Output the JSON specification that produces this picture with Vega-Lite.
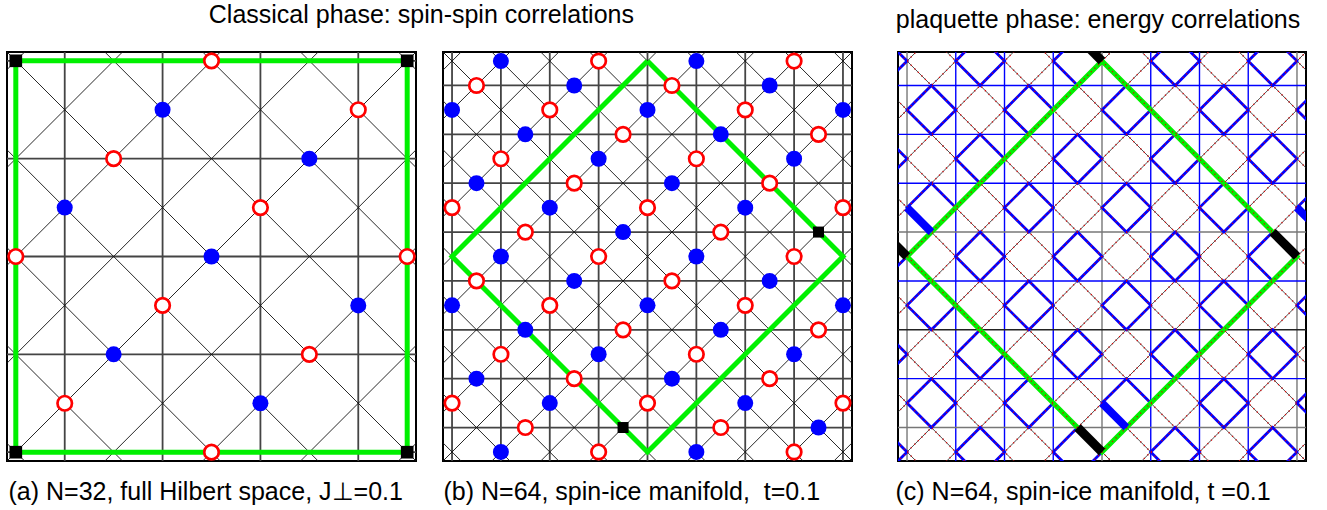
{
  "$schema": "https://vega.github.io/schema/vega-lite/v6.json",
  "background": "white",
  "padding": {"left": 2, "top": 3, "right": 0, "bottom": 0},
  "spacing": 37,
  "config": {
    "font": "Liberation Sans",
    "view": {"stroke": "#000", "strokeWidth": 2},
    "title": {"fontSize": 25, "fontWeight": "normal", "color": "#000", "font": "Liberation Sans", "offset": 19, "anchor": "middle"},
    "axis": {"titleFontSize": 25, "titleFontWeight": "normal", "titleColor": "#000", "titleFont": "Liberation Sans"}
  },
  "datasets": {
    "sitesA": [
      {"x": 0, "y": 0, "c": "k"}, {"x": 4, "y": 0, "c": "r"}, {"x": 8, "y": 0, "c": "k"},
      {"x": 3, "y": 1, "c": "b"}, {"x": 7, "y": 1, "c": "r"},
      {"x": 2, "y": 2, "c": "r"}, {"x": 6, "y": 2, "c": "b"},
      {"x": 1, "y": 3, "c": "b"}, {"x": 5, "y": 3, "c": "r"},
      {"x": 0, "y": 4, "c": "r"}, {"x": 4, "y": 4, "c": "b"}, {"x": 8, "y": 4, "c": "r"},
      {"x": 3, "y": 5, "c": "r"}, {"x": 7, "y": 5, "c": "b"},
      {"x": 2, "y": 6, "c": "b"}, {"x": 6, "y": 6, "c": "r"},
      {"x": 1, "y": 7, "c": "r"}, {"x": 5, "y": 7, "c": "b"},
      {"x": 0, "y": 8, "c": "k"}, {"x": 4, "y": 8, "c": "r"}, {"x": 8, "y": 8, "c": "k"}
    ],
    "gridA": [
      {"x": 1, "y": -1, "x2": 1, "y2": 9}, {"x": 3, "y": -1, "x2": 3, "y2": 9},
      {"x": 5, "y": -1, "x2": 5, "y2": 9}, {"x": 7, "y": -1, "x2": 7, "y2": 9},
      {"x": -1, "y": 0, "x2": 9, "y2": 0}, {"x": -1, "y": 2, "x2": 9, "y2": 2},
      {"x": -1, "y": 4, "x2": 9, "y2": 4}, {"x": -1, "y": 6, "x2": 9, "y2": 6},
      {"x": -1, "y": 8, "x2": 9, "y2": 8}
    ],
    "diagA": [
      {"x": -1, "y": 7, "x2": 9, "y2": 17}, {"x": -1, "y": 5, "x2": 9, "y2": 15},
      {"x": -1, "y": 3, "x2": 9, "y2": 13}, {"x": -1, "y": 1, "x2": 9, "y2": 11},
      {"x": -1, "y": -1, "x2": 9, "y2": 9}, {"x": -1, "y": -3, "x2": 9, "y2": 7},
      {"x": -1, "y": -5, "x2": 9, "y2": 5}, {"x": -1, "y": -7, "x2": 9, "y2": 3},
      {"x": -1, "y": -9, "x2": 9, "y2": 1},
      {"x": -1, "y": 1, "x2": 9, "y2": -9}, {"x": -1, "y": 3, "x2": 9, "y2": -7},
      {"x": -1, "y": 5, "x2": 9, "y2": -5}, {"x": -1, "y": 7, "x2": 9, "y2": -3},
      {"x": -1, "y": 9, "x2": 9, "y2": -1}, {"x": -1, "y": 11, "x2": 9, "y2": 1},
      {"x": -1, "y": 13, "x2": 9, "y2": 3}, {"x": -1, "y": 15, "x2": 9, "y2": 5},
      {"x": -1, "y": 17, "x2": 9, "y2": 7}
    ],
    "greenA": [
      {"x": 0, "y": 0, "k": 0}, {"x": 8, "y": 0, "k": 1}, {"x": 8, "y": 8, "k": 2},
      {"x": 0, "y": 8, "k": 3}, {"x": 0, "y": 0, "k": 4}
    ],
    "sitesB": [
      {"x": 2, "y": 0, "c": "b"}, {"x": 6, "y": 0, "c": "r"}, {"x": 10, "y": 0, "c": "b"}, {"x": 14, "y": 0, "c": "r"},
      {"x": 1, "y": 1, "c": "r"}, {"x": 5, "y": 1, "c": "b"}, {"x": 9, "y": 1, "c": "r"}, {"x": 13, "y": 1, "c": "b"},
      {"x": 0, "y": 2, "c": "b"}, {"x": 4, "y": 2, "c": "r"}, {"x": 8, "y": 2, "c": "b"}, {"x": 12, "y": 2, "c": "r"}, {"x": 16, "y": 2, "c": "b"},
      {"x": 3, "y": 3, "c": "b"}, {"x": 7, "y": 3, "c": "r"}, {"x": 11, "y": 3, "c": "b"}, {"x": 15, "y": 3, "c": "r"},
      {"x": 2, "y": 4, "c": "r"}, {"x": 6, "y": 4, "c": "b"}, {"x": 10, "y": 4, "c": "r"}, {"x": 14, "y": 4, "c": "b"},
      {"x": 1, "y": 5, "c": "b"}, {"x": 5, "y": 5, "c": "r"}, {"x": 9, "y": 5, "c": "b"}, {"x": 13, "y": 5, "c": "r"},
      {"x": 0, "y": 6, "c": "r"}, {"x": 4, "y": 6, "c": "b"}, {"x": 8, "y": 6, "c": "r"}, {"x": 12, "y": 6, "c": "b"}, {"x": 16, "y": 6, "c": "r"},
      {"x": 3, "y": 7, "c": "r"}, {"x": 7, "y": 7, "c": "b"}, {"x": 11, "y": 7, "c": "r"}, {"x": 15, "y": 7, "c": "k"},
      {"x": 2, "y": 8, "c": "b"}, {"x": 6, "y": 8, "c": "r"}, {"x": 10, "y": 8, "c": "b"}, {"x": 14, "y": 8, "c": "r"},
      {"x": 1, "y": 9, "c": "r"}, {"x": 5, "y": 9, "c": "b"}, {"x": 9, "y": 9, "c": "r"}, {"x": 13, "y": 9, "c": "b"},
      {"x": 0, "y": 10, "c": "b"}, {"x": 4, "y": 10, "c": "r"}, {"x": 8, "y": 10, "c": "b"}, {"x": 12, "y": 10, "c": "r"}, {"x": 16, "y": 10, "c": "b"},
      {"x": 3, "y": 11, "c": "b"}, {"x": 7, "y": 11, "c": "r"}, {"x": 11, "y": 11, "c": "b"}, {"x": 15, "y": 11, "c": "r"},
      {"x": 2, "y": 12, "c": "r"}, {"x": 6, "y": 12, "c": "b"}, {"x": 10, "y": 12, "c": "r"}, {"x": 14, "y": 12, "c": "b"},
      {"x": 1, "y": 13, "c": "b"}, {"x": 5, "y": 13, "c": "r"}, {"x": 9, "y": 13, "c": "b"}, {"x": 13, "y": 13, "c": "r"},
      {"x": 0, "y": 14, "c": "r"}, {"x": 4, "y": 14, "c": "b"}, {"x": 8, "y": 14, "c": "r"}, {"x": 12, "y": 14, "c": "b"}, {"x": 16, "y": 14, "c": "r"},
      {"x": 3, "y": 15, "c": "r"}, {"x": 7, "y": 15, "c": "k"}, {"x": 11, "y": 15, "c": "r"}, {"x": 15, "y": 15, "c": "b"},
      {"x": 2, "y": 16, "c": "b"}, {"x": 6, "y": 16, "c": "r"}, {"x": 10, "y": 16, "c": "b"}, {"x": 14, "y": 16, "c": "r"}
    ],
    "grid16": [
      {"x": 0, "y": -1, "x2": 0, "y2": 17}, {"x": 2, "y": -1, "x2": 2, "y2": 17},
      {"x": 4, "y": -1, "x2": 4, "y2": 17}, {"x": 6, "y": -1, "x2": 6, "y2": 17},
      {"x": 8, "y": -1, "x2": 8, "y2": 17}, {"x": 10, "y": -1, "x2": 10, "y2": 17},
      {"x": 12, "y": -1, "x2": 12, "y2": 17}, {"x": 14, "y": -1, "x2": 14, "y2": 17},
      {"x": 16, "y": -1, "x2": 16, "y2": 17},
      {"x": -1, "y": 1, "x2": 17, "y2": 1}, {"x": -1, "y": 3, "x2": 17, "y2": 3},
      {"x": -1, "y": 5, "x2": 17, "y2": 5}, {"x": -1, "y": 7, "x2": 17, "y2": 7},
      {"x": -1, "y": 9, "x2": 17, "y2": 9}, {"x": -1, "y": 11, "x2": 17, "y2": 11},
      {"x": -1, "y": 13, "x2": 17, "y2": 13}, {"x": -1, "y": 15, "x2": 17, "y2": 15}
    ],
    "gridC": [
      {"x": 0, "y": -1, "x2": 0, "y2": 17, "w": "weak"}, {"x": 2, "y": -1, "x2": 2, "y2": 17, "w": "pos"},
      {"x": 4, "y": -1, "x2": 4, "y2": 17, "w": "pos"}, {"x": 6, "y": -1, "x2": 6, "y2": 17, "w": "pos"},
      {"x": 8, "y": -1, "x2": 8, "y2": 17, "w": "weak"}, {"x": 10, "y": -1, "x2": 10, "y2": 17, "w": "pos"},
      {"x": 12, "y": -1, "x2": 12, "y2": 17, "w": "pos"}, {"x": 14, "y": -1, "x2": 14, "y2": 17, "w": "pos"},
      {"x": 16, "y": -1, "x2": 16, "y2": 17, "w": "weak"},
      {"x": -1, "y": 1, "x2": 17, "y2": 1, "w": "pos"}, {"x": -1, "y": 3, "x2": 17, "y2": 3, "w": "pos"},
      {"x": -1, "y": 5, "x2": 17, "y2": 5, "w": "pos"}, {"x": -1, "y": 7, "x2": 17, "y2": 7, "w": "weak"},
      {"x": -1, "y": 9, "x2": 17, "y2": 9, "w": "pos"}, {"x": -1, "y": 11, "x2": 17, "y2": 11, "w": "zero"},
      {"x": -1, "y": 13, "x2": 17, "y2": 13, "w": "pos"}, {"x": -1, "y": 15, "x2": 17, "y2": 15, "w": "weak"}
    ],
    "diag16": [
      {"x": -1, "y": 15, "x2": 17, "y2": 33}, {"x": -1, "y": 13, "x2": 17, "y2": 31},
      {"x": -1, "y": 11, "x2": 17, "y2": 29}, {"x": -1, "y": 9, "x2": 17, "y2": 27},
      {"x": -1, "y": 7, "x2": 17, "y2": 25}, {"x": -1, "y": 5, "x2": 17, "y2": 23},
      {"x": -1, "y": 3, "x2": 17, "y2": 21}, {"x": -1, "y": 1, "x2": 17, "y2": 19},
      {"x": -1, "y": -1, "x2": 17, "y2": 17}, {"x": -1, "y": -3, "x2": 17, "y2": 15},
      {"x": -1, "y": -5, "x2": 17, "y2": 13}, {"x": -1, "y": -7, "x2": 17, "y2": 11},
      {"x": -1, "y": -9, "x2": 17, "y2": 9}, {"x": -1, "y": -11, "x2": 17, "y2": 7},
      {"x": -1, "y": -13, "x2": 17, "y2": 5}, {"x": -1, "y": -15, "x2": 17, "y2": 3},
      {"x": -1, "y": -17, "x2": 17, "y2": 1},
      {"x": -1, "y": 1, "x2": 17, "y2": -17}, {"x": -1, "y": 3, "x2": 17, "y2": -15},
      {"x": -1, "y": 5, "x2": 17, "y2": -13}, {"x": -1, "y": 7, "x2": 17, "y2": -11},
      {"x": -1, "y": 9, "x2": 17, "y2": -9}, {"x": -1, "y": 11, "x2": 17, "y2": -7},
      {"x": -1, "y": 13, "x2": 17, "y2": -5}, {"x": -1, "y": 15, "x2": 17, "y2": -3},
      {"x": -1, "y": 17, "x2": 17, "y2": -1}, {"x": -1, "y": 19, "x2": 17, "y2": 1},
      {"x": -1, "y": 21, "x2": 17, "y2": 3}, {"x": -1, "y": 23, "x2": 17, "y2": 5},
      {"x": -1, "y": 25, "x2": 17, "y2": 7}, {"x": -1, "y": 27, "x2": 17, "y2": 9},
      {"x": -1, "y": 29, "x2": 17, "y2": 11}, {"x": -1, "y": 31, "x2": 17, "y2": 13},
      {"x": -1, "y": 33, "x2": 17, "y2": 15}
    ],
    "green16": [
      {"x": 8, "y": 0, "k": 0}, {"x": 16, "y": 8, "k": 1}, {"x": 8, "y": 16, "k": 2},
      {"x": 0, "y": 8, "k": 3}, {"x": 8, "y": 0, "k": 4}
    ],
    "plaqC": [
      {"x": -1, "y": 0}, {"x": 3, "y": 0}, {"x": 7, "y": 0}, {"x": 11, "y": 0}, {"x": 15, "y": 0},
      {"x": 1, "y": 2}, {"x": 5, "y": 2}, {"x": 9, "y": 2}, {"x": 13, "y": 2}, {"x": 17, "y": 2},
      {"x": -1, "y": 4}, {"x": 3, "y": 4}, {"x": 7, "y": 4}, {"x": 11, "y": 4}, {"x": 15, "y": 4},
      {"x": 1, "y": 6}, {"x": 5, "y": 6}, {"x": 9, "y": 6}, {"x": 13, "y": 6}, {"x": 17, "y": 6},
      {"x": -1, "y": 8}, {"x": 3, "y": 8}, {"x": 7, "y": 8}, {"x": 11, "y": 8}, {"x": 15, "y": 8},
      {"x": 1, "y": 10}, {"x": 5, "y": 10}, {"x": 9, "y": 10}, {"x": 13, "y": 10}, {"x": 17, "y": 10},
      {"x": -1, "y": 12}, {"x": 3, "y": 12}, {"x": 7, "y": 12}, {"x": 11, "y": 12}, {"x": 15, "y": 12},
      {"x": 1, "y": 14}, {"x": 5, "y": 14}, {"x": 9, "y": 14}, {"x": 13, "y": 14}, {"x": 17, "y": 14},
      {"x": -1, "y": 16}, {"x": 3, "y": 16}, {"x": 7, "y": 16}, {"x": 11, "y": 16}, {"x": 15, "y": 16}
    ],
    "bondsC": [
      {"x": 15, "y": 7, "x2": 16, "y2": 8, "c": "ref"},
      {"x": 7, "y": 15, "x2": 8, "y2": 16, "c": "ref"},
      {"x": 7, "y": -1, "x2": 8, "y2": 0, "c": "ref"},
      {"x": -1, "y": 7, "x2": 0, "y2": 8, "c": "ref"},
      {"x": 0, "y": 6, "x2": 1, "y2": 7, "c": "pos"},
      {"x": 8, "y": 14, "x2": 9, "y2": 15, "c": "pos"},
      {"x": 16, "y": 6, "x2": 17, "y2": 7, "c": "pos"}
    ]
  },
  "hconcat": [
    {
      "title": {"text": "Classical phase: spin-spin correlations", "anchor": "middle", "dx": -8},
      "spacing": 17,
      "hconcat": [
        {
          "width": 409,
          "height": 409,
          "encoding": {
            "x": {"field": "x", "type": "quantitative", "scale": {"domain": [-0.18, 8.18], "nice": false, "zero": false},
                  "axis": {"title": "(a) N=32, full Hilbert space, J⊥=0.1", "labels": false, "ticks": false, "domain": false, "grid": false,
                           "titleX": 1, "titleY": 38, "titleAnchor": "start", "titleAlign": "left", "titleBaseline": "alphabetic"}},
            "y": {"field": "y", "type": "quantitative", "scale": {"domain": [-0.18, 8.18], "nice": false, "zero": false, "reverse": true}, "axis": null}
          },
          "layer": [
            {"data": {"name": "gridA"}, "mark": {"type": "rule", "clip": true, "stroke": "#444", "strokeWidth": 1.8},
             "encoding": {"x2": {"field": "x2"}, "y2": {"field": "y2"}}},
            {"data": {"name": "diagA"}, "mark": {"type": "rule", "clip": true, "stroke": "#111", "strokeWidth": 0.9},
             "encoding": {"x2": {"field": "x2"}, "y2": {"field": "y2"}}},
            {"data": {"name": "greenA"}, "mark": {"type": "line", "clip": true, "stroke": "#00f000", "strokeWidth": 5, "strokeJoin": "miter"},
             "encoding": {"order": {"field": "k", "type": "quantitative"}}},
            {"data": {"name": "sitesA"}, "transform": [{"filter": "datum.c === 'b'"}],
             "mark": {"type": "point", "shape": "circle", "filled": true, "fill": "#0000ff", "strokeWidth": 0, "size": 256, "opacity": 1}},
            {"data": {"name": "sitesA"}, "transform": [{"filter": "datum.c === 'r'"}],
             "mark": {"type": "point", "shape": "circle", "filled": true, "fill": "#ffffff", "stroke": "#ff0000", "strokeWidth": 2.7, "size": 210, "opacity": 1}},
            {"data": {"name": "sitesA"}, "transform": [{"filter": "datum.c === 'k'"}],
             "mark": {"type": "point", "shape": "square", "filled": true, "fill": "#000000", "strokeWidth": 0, "size": 160, "opacity": 1}}
          ]
        },
        {
          "width": 409,
          "height": 409,
          "encoding": {
            "x": {"field": "x", "type": "quantitative", "scale": {"domain": [-0.37, 16.37], "nice": false, "zero": false},
                  "axis": {"title": "(b) N=64, spin-ice manifold,\u00a0 t=0.1", "labels": false, "ticks": false, "domain": false, "grid": false,
                           "titleX": 0, "titleY": 38, "titleAnchor": "start", "titleAlign": "left", "titleBaseline": "alphabetic"}},
            "y": {"field": "y", "type": "quantitative", "scale": {"domain": [-0.37, 16.37], "nice": false, "zero": false, "reverse": true}, "axis": null}
          },
          "layer": [
            {"data": {"name": "grid16"}, "mark": {"type": "rule", "clip": true, "stroke": "#444", "strokeWidth": 1.8},
             "encoding": {"x2": {"field": "x2"}, "y2": {"field": "y2"}}},
            {"data": {"name": "diag16"}, "mark": {"type": "rule", "clip": true, "stroke": "#111", "strokeWidth": 0.9},
             "encoding": {"x2": {"field": "x2"}, "y2": {"field": "y2"}}},
            {"data": {"name": "green16"}, "mark": {"type": "line", "clip": true, "stroke": "#00f000", "strokeWidth": 5, "strokeJoin": "miter"},
             "encoding": {"order": {"field": "k", "type": "quantitative"}}},
            {"data": {"name": "sitesB"}, "transform": [{"filter": "datum.c === 'b'"}],
             "mark": {"type": "point", "shape": "circle", "filled": true, "fill": "#0000ff", "strokeWidth": 0, "size": 256, "opacity": 1}},
            {"data": {"name": "sitesB"}, "transform": [{"filter": "datum.c === 'r'"}],
             "mark": {"type": "point", "shape": "circle", "filled": true, "fill": "#ffffff", "stroke": "#ff0000", "strokeWidth": 2.7, "size": 210, "opacity": 1}},
            {"data": {"name": "sitesB"}, "transform": [{"filter": "datum.c === 'k'"}],
             "mark": {"type": "point", "shape": "square", "filled": true, "fill": "#000000", "strokeWidth": 0, "size": 121, "opacity": 1}}
          ]
        }
      ]
    },
    {
      "title": {"text": "plaquette phase: energy correlations", "anchor": "middle", "dx": -4},
      "width": 408,
      "height": 409,
      "encoding": {
        "x": {"field": "x", "type": "quantitative", "scale": {"domain": [-0.37, 16.37], "nice": false, "zero": false},
              "axis": {"title": "(c) N=64, spin-ice manifold, t =0.1", "labels": false, "ticks": false, "domain": false, "grid": false,
                       "titleX": -3, "titleY": 38, "titleAnchor": "start", "titleAlign": "left", "titleBaseline": "alphabetic"}},
        "y": {"field": "y", "type": "quantitative", "scale": {"domain": [-0.37, 16.37], "nice": false, "zero": false, "reverse": true}, "axis": null}
      },
      "layer": [
        {"data": {"name": "gridC"}, "mark": {"type": "rule", "clip": true, "strokeWidth": 1.4},
         "encoding": {"x2": {"field": "x2"}, "y2": {"field": "y2"},
                      "color": {"field": "w", "type": "nominal", "legend": null,
                                "scale": {"domain": ["pos", "weak", "zero"], "range": ["#0000ff", "#777777", "#222222"]}}}},
        {"data": {"name": "diag16"}, "mark": {"type": "rule", "clip": true, "stroke": "#222", "strokeWidth": 0.8},
         "encoding": {"x2": {"field": "x2"}, "y2": {"field": "y2"}}},
        {"data": {"name": "plaqC"}, "mark": {"type": "point", "shape": "diamond", "clip": true, "filled": false, "stroke": "#0000ff", "strokeWidth": 2.8, "size": 2381, "opacity": 1}},
        {"data": {"name": "green16"}, "mark": {"type": "line", "clip": true, "stroke": "#00f000", "strokeWidth": 5, "strokeJoin": "miter"},
         "encoding": {"order": {"field": "k", "type": "quantitative"}}},
        {"data": {"name": "diag16"}, "mark": {"type": "rule", "clip": true, "stroke": "#e00000", "strokeWidth": 1.5, "strokeDash": [1, 4]},
         "encoding": {"x2": {"field": "x2"}, "y2": {"field": "y2"}}},
        {"data": {"name": "bondsC"}, "transform": [{"filter": "datum.c === 'pos'"}],
         "mark": {"type": "rule", "clip": true, "stroke": "#0000ff", "strokeWidth": 8},
         "encoding": {"x2": {"field": "x2"}, "y2": {"field": "y2"}}},
        {"data": {"name": "bondsC"}, "transform": [{"filter": "datum.c === 'ref'"}],
         "mark": {"type": "rule", "clip": true, "stroke": "#000000", "strokeWidth": 9},
         "encoding": {"x2": {"field": "x2"}, "y2": {"field": "y2"}}}
      ]
    }
  ]
}
